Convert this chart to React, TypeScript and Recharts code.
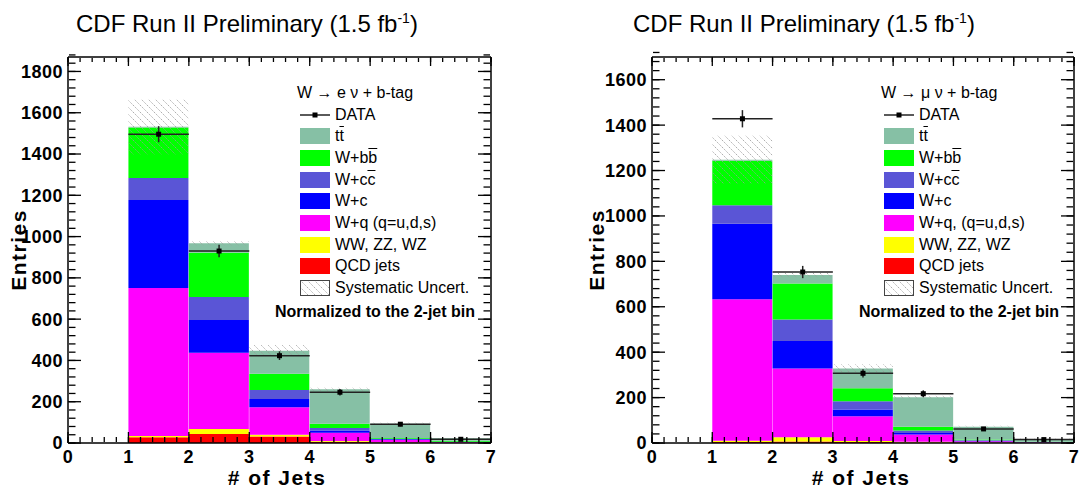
import React from "react";
import { ComposedChart, Bar, Scatter, ErrorBar, XAxis, YAxis } from "recharts";

const FONT = '"Liberation Sans", Arial, Helvetica, sans-serif';

const bins = ["0-1", "1-2", "2-3", "3-4", "4-5", "5-6", "6-7"];
const binCenters = [1.5, 2.5, 3.5, 4.5, 5.5, 6.5];
const xTicks = [0, 1, 2, 3, 4, 5, 6, 7];

// W -> e nu + b-tag
const eQcd = [0, 28, 44, 31, 6, 3, 1];
const eDiboson = [0, 6, 24, 9, 4, 1, 0.5];
const eWq = [0, 717, 369, 133, 40, 11, 3];
const eWc = [0, 426, 159, 40, 10, 3, 1];
const eWcc = [0, 107, 111, 44, 13, 2, 1];
const eWbb = [0, 244, 215, 79, 20, 4, 5];
const eTop = [0, 4, 46, 111, 167, 69, 11];
const eSyst = [0, 133, 10, 28, 8, 5, 2];
const eData = [1496, 930, 423, 246, 91, 18];
const eDataErr = [39, 30, 21, 16, 10, 4];
const eYTicks = [0, 200, 400, 600, 800, 1000, 1200, 1400, 1600, 1800];

// W -> mu nu + b-tag
const mQcd = [0, 4, 7, 4, 2, 1, 0.5];
const mDiboson = [0, 6, 18, 5, 3, 1, 0.5];
const mWq = [0, 623, 303, 109, 32, 6, 2];
const mWc = [0, 333, 121, 29, 7, 2, 1];
const mWcc = [0, 81, 95, 37, 11, 2, 1];
const mWbb = [0, 196, 159, 57, 17, 3, 2];
const mTop = [0, 4, 37, 87, 130, 57, 11];
const mSyst = [0, 106, 10, 18, 6, 4, 2];
const mData = [1428, 753, 307, 217, 62, 15];
const mDataErr = [38, 27, 18, 15, 8, 4];
const mYTicks = [0, 200, 400, 600, 800, 1000, 1200, 1400, 1600];

const colors = {
  qcd: "#ff0000",
  diboson: "#ffff00",
  wq: "#ff00ff",
  wc: "#0000ff",
  wcc: "#5a55d6",
  wbb: "#00ff00",
  top: "#86c0a5",
};

const steps = (max: number, step: number) =>
  Array.from({ length: Math.round(max / step) + 1 }, (_, i) => +(i * step).toFixed(3));

const tickFont = { fontSize: 18, fontWeight: "bold", fill: "#000", letterSpacing: 0.5 };
const frame = { stroke: "#000", strokeWidth: 1.5 };
const tickStroke = { stroke: "#000", strokeWidth: 1.3 };
// tick marks only, no label (tick={false} drops the whole axis)
const noLabel = () => <g />;

function TT() {
  return (
    <span>
      t<span style={{ textDecoration: "overline" }}>t</span>
    </span>
  );
}

function LegendBlock({ x, header, wqLabel, patternId }: any) {
  const rowH = 21.7;
  const row = (i: number): React.CSSProperties => ({
    position: "absolute",
    top: 82 + i * rowH,
    left: x,
    height: rowH,
    display: "flex",
    alignItems: "center",
    whiteSpace: "nowrap",
  });
  const box = (c: string) => (
    <span style={{ width: 30, height: 16, background: c, display: "inline-block", marginRight: 5 }} />
  );
  const items: [string, React.ReactNode][] = [
    [colors.top, <TT />],
    [colors.wbb, <span>W+b<span style={{ textDecoration: "overline" }}>b</span></span>],
    [colors.wcc, <span>W+c<span style={{ textDecoration: "overline" }}>c</span></span>],
    [colors.wc, "W+c"],
    [colors.wq, wqLabel],
    [colors.diboson, "WW, ZZ, WZ"],
    [colors.qcd, "QCD jets"],
  ];
  return (
    <div style={{ fontSize: 16, color: "#000" }}>
      <div style={{ ...row(0), left: x - 3 }}>{header}</div>
      <div style={row(1)}>
        <svg width={30} height={10} style={{ marginRight: 5 }}>
          <line x1={0} y1={5} x2={30} y2={5} stroke="#000" strokeWidth={1.3} />
          <rect x={12.5} y={2.5} width={5} height={5} fill="#000" />
        </svg>
        DATA
      </div>
      {items.map(([c, label], i) => (
        <div key={i} style={row(i + 2)}>
          {box(c)}
          {label}
        </div>
      ))}
      <div style={row(9)}>
        <svg width={30} height={16} style={{ marginRight: 5 }}>
          <rect x={0.5} y={0.5} width={29} height={15} fill={`url(#${patternId})`} stroke="#444" strokeWidth={1} />
        </svg>
        Systematic Uncert.
      </div>
      <div style={{ ...row(10), top: 82 + 10 * rowH + 2, left: x - 25, fontWeight: "bold" }}>
        Normalized to the 2-jet bin
      </div>
    </div>
  );
}

function Panel(p: any) {
  const rows = bins.map((bin, i) => {
    const total =
      p.qcd[i] + p.diboson[i] + p.wq[i] + p.wc[i] + p.wcc[i] + p.wbb[i] + p.top[i];
    return {
      bin,
      qcd: p.qcd[i],
      diboson: p.diboson[i],
      wq: p.wq[i],
      wc: p.wc[i],
      wcc: p.wcc[i],
      wbb: p.wbb[i],
      top: p.top[i],
      syst: total > 0 ? [total - p.syst[i], total + p.syst[i]] : null,
    };
  });
  const points = binCenters.map((x, i) => ({ x, y: p.data[i], ex: 0.5, ey: p.dataErr[i] }));
  const yMinor = steps(p.yMax, 40);
  const xMinor = steps(7, 0.2);
  const stack: (keyof typeof colors)[] = ["qcd", "diboson", "wq", "wc", "wcc", "wbb", "top"];

  const xTickAxis = (id: string, orientation: "top" | "bottom", ticks: number[], size: number, line: boolean) => (
    <XAxis
      xAxisId={id}
      dataKey="x"
      orientation={orientation}
      type="number"
      domain={[0, 7]}
      allowDataOverflow
      ticks={ticks}
      interval={0}
      mirror
      height={1}
      tick={noLabel}
      tickSize={size}
      tickLine={tickStroke}
      axisLine={line ? frame : false}
    />
  );
  const yTickAxis = (id: string, orientation: "left" | "right", ticks: number[], size: number, line: boolean) => (
    <YAxis
      yAxisId={id}
      dataKey="y"
      orientation={orientation}
      type="number"
      domain={[0, p.yMax]}
      allowDataOverflow
      ticks={ticks}
      interval={0}
      mirror
      width={1}
      tick={noLabel}
      tickSize={size}
      tickLine={tickStroke}
      axisLine={line ? frame : false}
    />
  );

  return (
    <>
      <div
        style={{ position: "absolute", left: p.titleX, top: 12, fontSize: 24, lineHeight: "24px", whiteSpace: "nowrap" }}
      >
        CDF Run II Preliminary (1.5 fb
        <span style={{ fontSize: 14, position: "relative", top: -9 }}>-1</span>)
      </div>
      <div
        style={{
          position: "absolute",
          left: p.entriesX - 60,
          top: 250 - 13,
          width: 120,
          height: 26,
          lineHeight: "26px",
          textAlign: "center",
          fontSize: 21,
          fontWeight: "bold",
          letterSpacing: 1.5,
          transform: "rotate(-90deg)",
          zIndex: 2,
        }}
      >
        Entries
      </div>
      <div
        style={{
          position: "absolute",
          left: p.jetsX - 100,
          top: 478 - 13,
          width: 200,
          height: 26,
          lineHeight: "26px",
          textAlign: "center",
          fontSize: 21,
          fontWeight: "bold",
          letterSpacing: 1.5,
        }}
      >
        # of Jets
      </div>
      <div style={{ position: "absolute", left: p.offsetX, top: 0 }}>
        <ComposedChart width={540} height={490} data={rows} margin={p.margin} barCategoryGap={0} barGap={0}>
          <defs>
            <pattern id={p.patternId} patternUnits="userSpaceOnUse" width={7} height={7}>
              <line x1={0} y1={0} x2={7} y2={7} stroke="#999" strokeWidth={0.8} strokeDasharray="1.5 1" />
            </pattern>
          </defs>
          {stack.map((k) => (
            <Bar
              key={k}
              xAxisId="cat"
              yAxisId="y"
              dataKey={k}
              stackId="mc"
              fill={colors[k]}
              isAnimationActive={false}
            />
          ))}
          <Bar
            xAxisId="hatch"
            yAxisId="y"
            dataKey="syst"
            fill={`url(#${p.patternId})`}
            isAnimationActive={false}
          />
          <Scatter
            xAxisId="num"
            yAxisId="y"
            data={points}
            isAnimationActive={false}
            shape={(s: any) => <rect x={s.cx - 2.5} y={s.cy - 2.5} width={5} height={5} fill="#000" />}
          >
            <ErrorBar dataKey="ey" direction="y" width={0} stroke="#222" strokeWidth={1.5} isAnimationActive={false} />
            <ErrorBar dataKey="ex" direction="x" width={0} stroke="#222" strokeWidth={1.5} isAnimationActive={false} />
          </Scatter>
          <Scatter xAxisId="major" yAxisId="lMajor" data={[]} isAnimationActive={false} />
          <Scatter xAxisId="minor" yAxisId="lMinor" data={[]} isAnimationActive={false} />
          <Scatter xAxisId="topMajor" yAxisId="rMajor" data={[]} isAnimationActive={false} />
          <Scatter xAxisId="topMinor" yAxisId="rMinor" data={[]} isAnimationActive={false} />

          {xTickAxis("major", "bottom", xTicks, 11, true)}
          {xTickAxis("minor", "bottom", xMinor, 5, false)}
          {xTickAxis("topMajor", "top", xTicks, 9, true)}
          {xTickAxis("topMinor", "top", xMinor, 4, false)}
          <XAxis
            xAxisId="num"
            dataKey="x"
            type="number"
            domain={[0, 7]}
            allowDataOverflow
            ticks={xTicks}
            interval={0}
            height={30}
            tickSize={0}
            tickMargin={7}
            tickLine={false}
            axisLine={false}
            tick={tickFont}
          />
          <XAxis xAxisId="cat" dataKey="bin" type="category" hide height={0} />
          <XAxis xAxisId="hatch" dataKey="bin" type="category" hide height={0} />
          {yTickAxis("lMajor", "left", p.yTicks, 13, true)}
          {yTickAxis("lMinor", "left", yMinor, 6.5, false)}
          {yTickAxis("rMajor", "right", p.yTicks, 13, true)}
          {yTickAxis("rMinor", "right", yMinor, 6.5, false)}
          <YAxis
            yAxisId="y"
            dataKey="y"
            type="number"
            domain={[0, p.yMax]}
            allowDataOverflow
            ticks={p.yTicks}
            interval={0}
            width={60}
            tickSize={0}
            tickMargin={5}
            tickLine={false}
            axisLine={false}
            tick={tickFont}
          />
        </ComposedChart>
      </div>
      <LegendBlock x={p.legendX} header={p.header} wqLabel={p.wqLabel} patternId={p.patternId} />
    </>
  );
}

export default function App() {
  return (
    <div
      style={{
        position: "absolute",
        left: 0,
        top: 0,
        width: 1080,
        height: 490,
        background: "#fff",
        fontFamily: FONT,
        color: "#000",
        overflow: "hidden",
      }}
    >
      <Panel
        offsetX={0}
        margin={{ top: 57, right: 49, bottom: 17, left: 8 }}
        yMax={1870}
        yTicks={eYTicks}
        qcd={eQcd}
        diboson={eDiboson}
        wq={eWq}
        wc={eWc}
        wcc={eWcc}
        wbb={eWbb}
        top={eTop}
        syst={eSyst}
        data={eData}
        dataErr={eDataErr}
        header="W → e ν + b-tag"
        wqLabel="W+q (q=u,d,s)"
        legendX={300}
        titleX={76}
        entriesX={19}
        jetsX={277}
        patternId="hatchE"
      />
      <Panel
        offsetX={540}
        margin={{ top: 57, right: 6, bottom: 17, left: 52 }}
        yMax={1700}
        yTicks={mYTicks}
        qcd={mQcd}
        diboson={mDiboson}
        wq={mWq}
        wc={mWc}
        wcc={mWcc}
        wbb={mWbb}
        top={mTop}
        syst={mSyst}
        data={mData}
        dataErr={mDataErr}
        header="W → μ ν + b-tag"
        wqLabel="W+q, (q=u,d,s)"
        legendX={884}
        titleX={633}
        entriesX={597}
        jetsX={861}
        patternId="hatchM"
      />
    </div>
  );
}
